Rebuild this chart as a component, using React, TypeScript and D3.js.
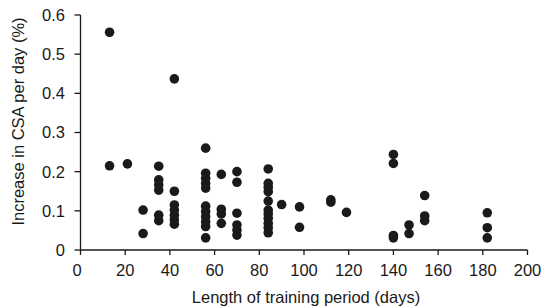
import React from "react";
import * as d3 from "d3";

const days: number[] = [
  13, 13,
  21,
  28, 28,
  35, 35, 35, 35, 35, 35,
  42, 42, 42, 42, 42, 42, 42,
  56, 56, 56, 56, 56, 56, 56, 56, 56, 56, 56,
  63, 63, 63, 63,
  70, 70, 70, 70, 70, 70,
  84, 84, 84, 84, 84, 84, 84, 84, 84, 84, 84,
  90,
  98, 98,
  112, 112,
  119,
  140, 140, 140, 140,
  147, 147,
  154, 154, 154,
  182, 182, 182,
];

const csaIncrease: number[] = [
  0.556, 0.215,
  0.22,
  0.102, 0.042,
  0.214, 0.179, 0.166, 0.153, 0.089, 0.075,
  0.437, 0.15, 0.115, 0.102, 0.089, 0.077, 0.066,
  0.26, 0.196, 0.183, 0.17, 0.158, 0.112, 0.098, 0.085, 0.072, 0.06, 0.031,
  0.193, 0.104, 0.092, 0.068,
  0.2, 0.173, 0.094, 0.064, 0.051, 0.038,
  0.207, 0.17, 0.16, 0.149, 0.125, 0.102, 0.092, 0.081, 0.068, 0.057, 0.044,
  0.116,
  0.11, 0.058,
  0.128, 0.122,
  0.096,
  0.244, 0.221, 0.037, 0.031,
  0.064, 0.042,
  0.139, 0.087, 0.075,
  0.095, 0.057, 0.031,
];

const xTicks: number[] = [0, 20, 40, 60, 80, 100, 120, 140, 160, 180, 200];
const yTicks: number[] = [0, 0.1, 0.2, 0.3, 0.4, 0.5, 0.6];

const xLabel = "Length of training period (days)";
const yLabel = "Increase in CSA per day (%)";

export default function App() {
  const W = 546;
  const H = 307;
  const x = d3.scaleLinear().domain([0, 200]).range([80.5, 527.5]);
  const y = d3.scaleLinear().domain([0, 0.6]).range([250, 15]);
  const font = "'Liberation Sans', Arial, Helvetica, sans-serif";
  const ink = "#1a1a1a";
  const fmtY = (v: number) => (v === 0 ? "0" : d3.format(".1f")(v));

  return (
    <svg
      width={W}
      height={H}
      style={{ position: "absolute", left: 0, top: 0, background: "#fff" }}
      fontFamily={font}
    >
      {/* y axis */}
      <line x1={x(0)} x2={x(0)} y1={y(0.6)} y2={y(0) + 0.5} stroke={ink} strokeWidth={1.3} />
      {yTicks.map((t) => (
        <g key={"y" + t}>
          <line x1={x(0) - 6} x2={x(0)} y1={y(t)} y2={y(t)} stroke={ink} strokeWidth={1.3} />
          <text x={65} y={y(t)} dy="0.36em" textAnchor="end" fontSize={16.5} fill={ink}>
            {fmtY(t)}
          </text>
        </g>
      ))}
      {/* x axis */}
      <line x1={x(0)} x2={x(200)} y1={y(0)} y2={y(0)} stroke={ink} strokeWidth={1.3} />
      {xTicks.map((t) => (
        <g key={"x" + t}>
          <line x1={x(t)} x2={x(t)} y1={y(0)} y2={y(0) + 5} stroke={ink} strokeWidth={1.3} />
          <text x={t === 0 ? x(t) - 3.5 : x(t)} y={275.5} textAnchor="middle" fontSize={16.5} fill={ink}>
            {t}
          </text>
        </g>
      ))}
      {/* points */}
      {days.map((d, i) => (
        <circle key={"p" + i} cx={x(d)} cy={y(csaIncrease[i])} r={4.8} fill={ink} />
      ))}
      {/* axis titles */}
      <text x={(x(0) + x(200)) / 2 + 2} y={302.5} textAnchor="middle" fontSize={16.5} fill={ink}>
        {xLabel}
      </text>
      <text
        transform={`translate(23.5, 121.5) rotate(-90)`}
        textAnchor="middle"
        fontSize={16.5}
        fill={ink}
      >
        {yLabel}
      </text>
    </svg>
  );
}
